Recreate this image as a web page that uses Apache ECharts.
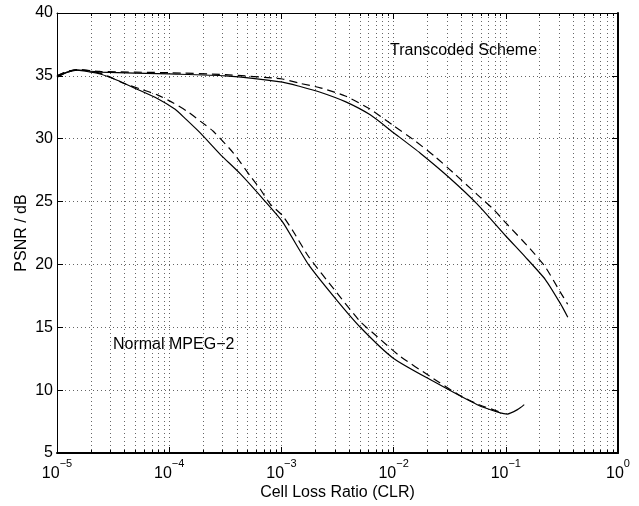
<!DOCTYPE html>
<html>
<head>
<meta charset="utf-8">
<script src="https://cdn.jsdelivr.net/npm/echarts@6/dist/echarts.min.js"></script>
<style>
html,body{margin:0;padding:0;background:#fff;}
#chart{width:639px;height:506px;}
</style>
</head>
<body>
<div id="chart"></div>
<script>
// ---- data (Cell Loss Ratio vs PSNR in dB) ----
const normalClr = [1.0e-5, 1.24e-5, 1.52e-5, 1.98e-5, 2.43e-5, 3.44e-5, 4.99e-5, 7.83e-5, 1.13e-4, 1.39e-4, 1.89e-4, 2.86e-4, 4.31e-4, 7.19e-4, 1.02e-3, 1.74e-3, 3.02e-3, 5.05e-3, 9.93e-3, 2.26e-2, 5.57e-2, 8.93e-2, 1.03e-1, 1.27e-1, 1.46e-1];
const normalPsnr = [34.9, 35.3, 35.45, 35.3, 35.15, 34.65, 34.0, 33.2, 32.34, 31.6, 30.46, 28.74, 27.2, 25.0, 23.4, 20.0, 17.3, 15.0, 12.54, 10.7, 8.84, 8.19, 8.1, 8.45, 8.85];

const normalDashClr = [1.0e-5, 1.24e-5, 1.52e-5, 1.98e-5, 2.43e-5, 2.99e-5, 3.90e-5, 5.52e-5, 7.83e-5, 1.09e-4, 1.45e-4, 1.89e-4, 2.47e-4, 3.72e-4, 5.28e-4, 6.49e-4, 7.96e-4, 1.02e-3, 1.28e-3, 1.74e-3, 3.02e-3, 5.05e-3, 7.16e-3, 1.15e-2, 2.12e-2, 3.70e-2, 5.57e-2, 8.93e-2];
const normalDashPsnr = [35.0, 35.35, 35.5, 35.4, 35.2, 34.9, 34.42, 33.96, 33.49, 32.84, 32.17, 31.4, 30.59, 28.88, 27.03, 25.98, 24.8, 23.9, 22.6, 20.65, 17.9, 15.45, 14.25, 12.67, 11.09, 9.7, 8.9, 8.25];

const transClr = [1.0e-5, 1.24e-5, 1.52e-5, 2.43e-5, 1.0e-4, 3.16e-4, 1.02e-3, 1.47e-3, 2.22e-3, 3.71e-3, 6.19e-3, 9.93e-3, 1.73e-2, 3.14e-2, 5.57e-2, 9.91e-2, 1.49e-1, 2.25e-1, 3.06e-1, 3.57e-1];
const transPsnr = [34.9, 35.3, 35.45, 35.3, 35.15, 35.0, 34.5, 34.15, 33.7, 32.95, 31.9, 30.5, 28.85, 26.9, 24.8, 22.3, 20.6, 18.8, 16.9, 15.8];

const transDashClr = [1.0e-5, 1.24e-5, 1.52e-5, 2.43e-5, 1.0e-4, 3.16e-4, 1.02e-3, 1.47e-3, 2.22e-3, 3.71e-3, 6.19e-3, 9.93e-3, 1.50e-2, 2.36e-2, 3.40e-2, 5.57e-2, 7.74e-2, 9.91e-2, 1.65e-1, 2.25e-1, 3.06e-1, 3.56e-1];
const transDashPsnr = [35.0, 35.35, 35.5, 35.35, 35.25, 35.1, 34.75, 34.4, 34.05, 33.4, 32.35, 31.05, 29.93, 28.55, 27.3, 25.55, 24.4, 23.35, 21.24, 19.8, 17.8, 16.83];

const xMin = 1e-5, xMax = 1;
const yMin = 5, yMax = 40, yStep = 5;
const xTitle = 'Cell Loss Ratio (CLR)';
const yTitle = 'PSNR / dB';
const annotTrans = 'Transcoded Scheme';
const annotNormal = 'Normal MPEG\u22122';

function pairs(xs, ys) { return xs.map((x, i) => [x, ys[i]]); }

const FONT = '"Liberation Sans", Arial, Helvetica, sans-serif';
const gridDot = { color: '#666', width: 1, type: [1, 3] };

function xAxisCfg(pos, showLabels, frameWidth) {
  return {
    type: 'log', logBase: 10, min: xMin, max: xMax, position: pos, gridIndex: 0,
    axisLine: { show: true, lineStyle: { color: '#000', width: frameWidth } },
    axisTick: { show: true, inside: true, length: 6, lineStyle: { color: '#000', width: 1 } },
    minorTick: { show: true, splitNumber: 9, length: 3, lineStyle: { color: '#000', width: 1 } },
    splitLine: { show: showLabels, lineStyle: gridDot },
    minorSplitLine: { show: showLabels, lineStyle: gridDot },
    axisLabel: showLabels ? {
      show: true, margin: 5, fontFamily: FONT, color: '#000',
      formatter: function (v) {
        const e = Math.round(Math.log10(v));
        const es = e < 0 ? '\u2212' + (-e) : String(e);
        return '{b|10}{s|' + es + '}';
      },
      rich: {
        b: { fontSize: 16, lineHeight: 24, verticalAlign: 'bottom', fontFamily: FONT, color: '#000' },
        s: { fontSize: 11, lineHeight: 12, verticalAlign: 'top', fontFamily: FONT, color: '#000' }
      }
    } : { show: false },
    name: showLabels ? xTitle : '',
    nameLocation: 'middle', nameGap: 32, nameMoveOverlap: false,
    nameTextStyle: { fontSize: 16, fontFamily: FONT, color: '#000' }
  };
}

function yAxisCfg(pos, showLabels, frameWidth) {
  return {
    type: 'value', min: yMin, max: yMax, interval: yStep, position: pos, gridIndex: 0,
    axisLine: { show: true, lineStyle: { color: '#000', width: frameWidth } },
    axisTick: { show: true, inside: true, length: 6, lineStyle: { color: '#000', width: 1 } },
    splitLine: { show: showLabels, lineStyle: gridDot },
    axisLabel: showLabels ? { show: true, margin: 4, fontSize: 16, fontFamily: FONT, color: '#000' } : { show: false },
    name: showLabels ? yTitle : '',
    nameLocation: 'middle', nameGap: 27, nameMoveOverlap: false,
    nameTextStyle: { fontSize: 16, fontFamily: FONT, color: '#000' }
  };
}

function lineSeries(name, data, dashed) {
  return {
    name: name, type: 'line', xAxisIndex: 0, yAxisIndex: 0,
    data: data, showSymbol: false, symbol: 'none',
    smooth: 0.2,
    lineStyle: { color: '#000', width: 1.2, type: dashed ? [8, 5] : 'solid' },
    silent: true, z: 5
  };
}

const chart = echarts.init(document.getElementById('chart'), null, { renderer: 'canvas' });
chart.setOption({
  animation: false,
  backgroundColor: '#fff',
  grid: { left: 57, right: 21, top: 13, bottom: 51, containLabel: false },
  xAxis: [xAxisCfg('bottom', true, 2), xAxisCfg('top', false, 1)],
  yAxis: [yAxisCfg('left', true, 1), yAxisCfg('right', false, 2)],
  series: [
    lineSeries('Transcoded (solid)', pairs(transClr, transPsnr), false),
    lineSeries('Transcoded (dashed)', pairs(transDashClr, transDashPsnr), true),
    lineSeries('Normal (solid)', pairs(normalClr, normalPsnr), false),
    lineSeries('Normal (dashed)', pairs(normalDashClr, normalDashPsnr), true)
  ],
  graphic: [
    { type: 'text', x: 390, y: 43, silent: true,
      style: { text: annotTrans, font: '16px ' + FONT, fill: '#000', verticalAlign: 'top' } },
    { type: 'text', x: 113, y: 337, silent: true,
      style: { text: annotNormal, font: '16px ' + FONT, fill: '#000', verticalAlign: 'top' } }
  ]
});
</script>
</body>
</html>
